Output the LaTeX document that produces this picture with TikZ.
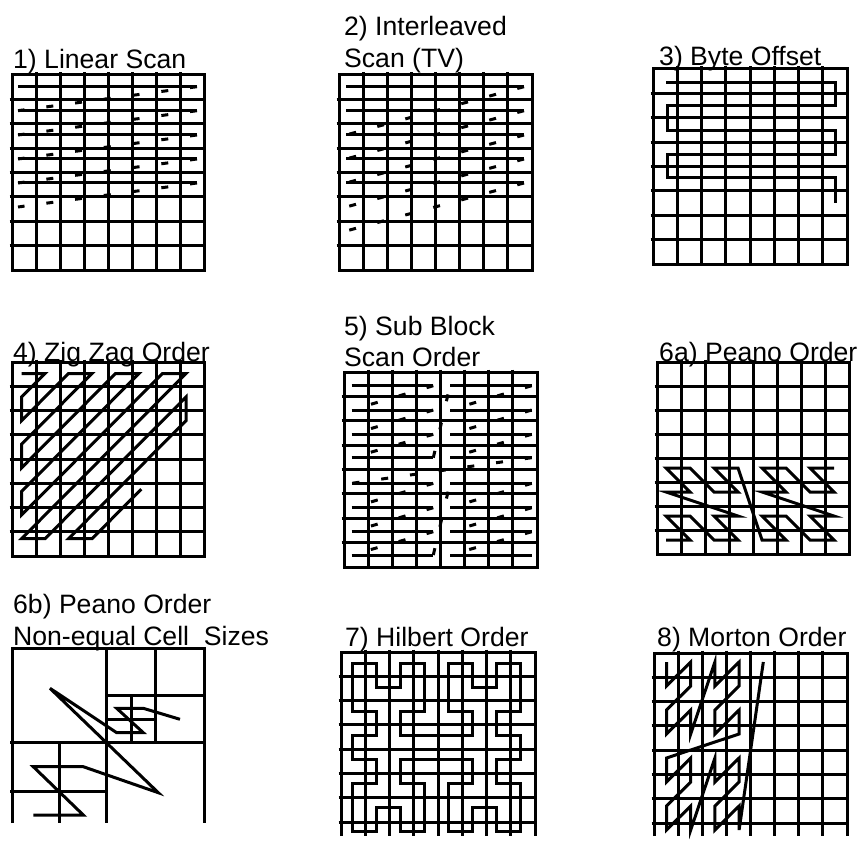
\documentclass[tikz,border=0pt]{standalone}
\usepackage{fontspec}
\setmainfont{Liberation Sans}
\newcommand\mygrid[6]{%
  \pgfmathsetmacro\gxr{#1+8*(#3)}%
  \foreach \k in {1,...,7}{%
    \pgfmathsetmacro\gx{#1+\k*(#3)}%
    \pgfmathsetmacro\gy{#2+\k*(#4)}%
    \draw[gl] (\gx,#2-2.5) -- (\gx,#5);
    \draw[gl] (#1-2.5,\gy) -- (\gxr,\gy);
  }%
  \ifnum#6=1 \draw[gl] (#1,#2) rectangle (\gxr,#5);%
  \else \draw[gl] (#1,#5) -- (#1,#2) -- (\gxr,#2) -- (\gxr,#5);\fi
}
\begin{document}
\begin{tikzpicture}[x=1pt,y=-1pt,
  gl/.style={line width=3pt},
  rt/.style={line width=3pt, dash pattern=on 7pt off 22pt},
  ttl/.style={font=\fontsize{26.6}{31}\selectfont, inner sep=0pt, anchor=base west}]
\fill[white] (0,0) rectangle (858,842);
\useasboundingbox (0,0) rectangle (858,842);

% ---------- titles
\node[ttl] (t1) at (13,69) {1) Linear Scan};
\node[ttl] (t2a) at (344,36) {2) Interleaved};
\node[ttl] (t2b) at (344,68) {Scan (TV)};
\node[ttl] (t3) at (659,66) {3) Byte Offset};
\node[ttl] (t4) at (13,361) {4) Zig Zag Order};
\node[ttl] (t5a) at (344,335) {5) Sub Block};
\node[ttl] (t5b) at (344,366) {Scan Order};
\node[ttl] (t6a) at (659,361) {6a) Peano Order};
\node[ttl] (t6b1) at (13,613) {6b) Peano Order};
\node[ttl] (t6b2) at (13,645) {Non-equal Cell~ Sizes};
\node[ttl] (t7) at (345,646) {7) Hilbert Order};
\node[ttl] (t8) at (657,646) {8) Morton Order};

% ---------- grids
\mygrid{12}{75}{24}{24.375}{270}{1}
\mygrid{339}{75}{24.125}{24.375}{270}{1}
\mygrid{653}{69}{24.25}{24.375}{264}{1}
\mygrid{12}{362}{24}{24.25}{556}{1}
\mygrid{344}{372}{24.125}{24.375}{567}{1}
\mygrid{657}{362}{24}{24}{554}{1}
\mygrid{341}{652}{24.25}{24.3}{836}{0}
\mygrid{654}{653}{24.125}{24.3}{836}{0}

% ---------- 1) linear scan
\foreach \y in {86.7,110.7,135,159,183} \draw[gl] (18,\y) -- (197,\y);
\foreach \a/\b in {86.7/110.7,110.7/135,135/159,159/183,183/207}
  \draw[rt] (197,\a) -- (18,\b);

% ---------- 2) interleaved scan
\foreach \y in {86.7,110.7,135,159,183} \draw[gl] (346,\y) -- (524,\y);
\foreach \a/\b in {86.7/135,110.7/159,135/183,159/207,183/231}
  \draw[rt] (524,\a) -- (346,\b);

% ---------- 3) byte offset
\draw[gl] (666,83) -- (835,83) -- (835,106) -- (667,106) -- (667,131) -- (835,131)
  -- (835,155) -- (667,155) -- (667,178) -- (835,178) -- (835,203);

% ---------- 4) zig zag
\begin{scope}[shift={(21.5,373.5)}, x=23.5pt, y=-23.6pt]
\draw[gl] (0,0)--(1,0)--(0,1)--(0,2)--(2,0)--(3,0)--(0,3)--(0,4)--(4,0)--(5,0)
  --(0,5)--(0,6)--(6,0)--(7,0)--(0,7)--(1,7)--(7,1)--(7,2)--(2,7)--(3,7)--(5.1,4.9);
\end{scope}

% ---------- 5) sub block scan
\foreach \y in {385.7,410,434.3,457.7,483.3,507.7,531.7,555} {
  \draw[gl] (351.7,\y) -- (433.3,\y);
  \draw[gl] (450,\y) -- (531.7,\y);
}
\foreach \a/\b in {385.7/410,410/434.3,434.3/457.7,483.3/507.7,507.7/531.7,531.7/555} {
  \draw[rt] (433.3,\a) -- (351.7,\b);
  \draw[rt] (531.7,\a) -- (450,\b);
}
\draw[rt] (433.3,457.7) -- (450,385.7);
\draw[rt] (531.7,457.7) -- (351.7,483.3);
\draw[rt] (433.3,555) -- (450,483.3);

% ---------- 6a) peano (z-order)
\begin{scope}[shift={(666,540)}, x=24pt, y=24pt]
\draw[gl] (0,0)--(1,0)--(0,1)--(1,1)--(2,0)--(3,0)--(2,1)--(3,1)--(0,2)--(1,2)--(0,3)--(1,3)
  --(2,2)--(3,2)--(2,3)--(3,3)--(4,0)--(5,0)--(4,1)--(5,1)--(6,0)--(7,0)--(6,1)--(7,1)
  --(4,2)--(5,2)--(4,3)--(5,3)--(6,2)--(7,2)--(6,3)--(7,3);
\end{scope}

% ---------- 6b) non-equal cells
\draw[gl] (12,823) -- (12,648) -- (204,648) -- (204,823);
\draw[gl] (106.7,648) -- (106.7,823);
\draw[gl] (10,742.7) -- (204,742.7);
\draw[gl] (155,648) -- (155,742.7);
\draw[gl] (106.7,695) -- (204,695);
\draw[gl] (131,695) -- (131,742.7);
\draw[gl] (106.7,719) -- (155,719);
\draw[gl] (59.3,742.7) -- (59.3,823);
\draw[gl] (10,791) -- (106.7,791);
\draw[gl] (33.3,815)--(83.3,815)--(33.3,766.7)--(83.3,766.7)--(158.3,792.7)--(50,688.3)
  --(116.7,732.7)--(143.3,732.7)--(116.7,708.3)--(143.3,708.3)--(180,719.3);

% ---------- 7) hilbert (symmetric closed form)
\begin{scope}[shift={(352,831.5)}, x=24pt, y=24pt]
\draw[gl] (0,4)--(1,4)--(1,5)--(0,5)--(0,6)--(0,7)--(1,7)--(1,6)--(2,6)--(2,7)--(3,7)--(3,6)--(3,5)--(2,5)--(2,4)--(3,4)
  --(4,4)--(5,4)--(5,5)--(4,5)--(4,6)--(4,7)--(5,7)--(5,6)--(6,6)--(6,7)--(7,7)--(7,6)--(7,5)--(6,5)--(6,4)--(7,4)
  --(7,3)--(6,3)--(6,2)--(7,2)--(7,1)--(7,0)--(6,0)--(6,1)--(5,1)--(5,0)--(4,0)--(4,1)--(4,2)--(5,2)--(5,3)--(4,3)
  --(3,3)--(2,3)--(2,2)--(3,2)--(3,1)--(3,0)--(2,0)--(2,1)--(1,1)--(1,0)--(0,0)--(0,1)--(0,2)--(1,2)--(1,3)--(0,3)--cycle;
\end{scope}

% ---------- 8) morton (n-order)
\begin{scope}[shift={(666.5,662)}, x=24.2pt, y=-24pt]
\draw[gl] (0,0)--(0,1)--(1,0)--(1,1)--(0,2)--(0,3)--(1,2)--(1,3)--(2,0)--(2,1)--(3,0)--(3,1)--(2,2)--(2,3)--(3,2)--(3,3)
  --(0,4)--(0,5)--(1,4)--(1,5)--(0,6)--(0,7)--(1,6)--(1,7)--(2,4)--(2,5)--(3,4)--(3,5)--(2,6)--(2,7)--(3,6)--(3,7)--(4,0);
\end{scope}
\end{tikzpicture}
\end{document}
